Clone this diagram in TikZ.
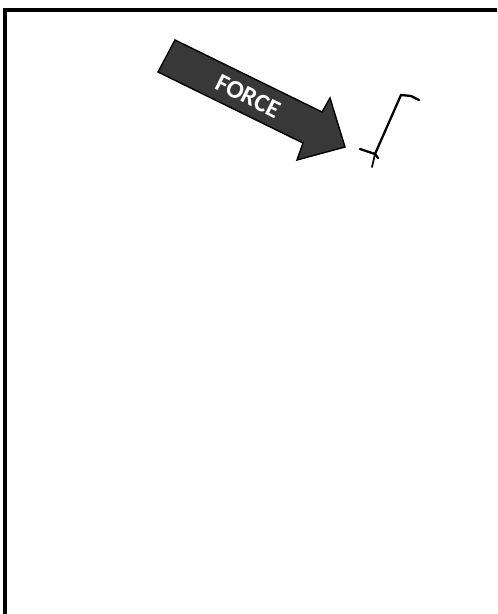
\documentclass[tikz,border=0pt]{standalone}
\usepackage{fontspec}
\newfontfamily\labelfont{Carlito}
\begin{document}
\begin{tikzpicture}[
    x=0.02cm, y=-0.02cm,
    frameline/.style={line width=1.8pt, draw=black},
    bigarrow/.style={fill=black!78, draw=black, line width=0.8pt, line join=miter},
    arrowtext/.style={text=white, font=\labelfont\bfseries\fontsize{14.5}{16}\selectfont,
        rotate=-26.5, inner sep=0pt},
    hook/.style={draw=black, line width=1.3pt, line cap=round, line join=miter}
]
\useasboundingbox (0,0) rectangle (497,614);

% ramecek (jen horni a leva hrana)
\draw[frameline] (5,614) -- (5,10) -- (497,10);

%------------------------------------------------
% sipka sily
%------------------------------------------------
\coordinate (tailtop) at (175,40);
\coordinate (tailbot) at (158,72);
\coordinate (tip)     at (345,147);
\filldraw[bigarrow] (tailtop) -- (322,112) -- (330,98) -- (tip)
    -- (297,160) -- (303,143) -- (tailbot) -- cycle;
\node[arrowtext] (force) at (248,96) {FORCE};

%------------------------------------------------
% hacek
%------------------------------------------------
\coordinate (hooktop) at (419,100);
\coordinate (hookbend) at (401,95);
\coordinate (hookfoot) at (375,154);
\draw[hook] (hooktop) -- (411,96) -- (hookbend) -- (hookfoot);
\draw[hook] (360,149) -- (hookfoot) -- (378,158);
\draw[hook, line width=1pt] (hookfoot) -- (372,167);

\end{tikzpicture}
\end{document}
